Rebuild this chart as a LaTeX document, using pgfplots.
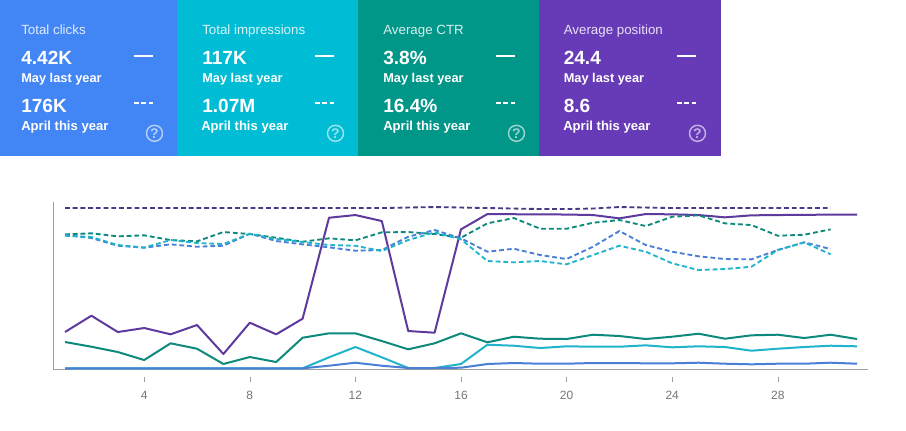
\documentclass[border=0pt]{standalone}
\usepackage{fontspec}
\setmainfont{Liberation Sans}
\usepackage{pgfplots}
\pgfplotsset{compat=1.18}
\usepackage{pgfplotstable}

\definecolor{gblue}{HTML}{4285F4}
\definecolor{gcyan}{HTML}{00BCD4}
\definecolor{gteal}{HTML}{009688}
\definecolor{gpurple}{HTML}{673AB7}
\definecolor{lineblue}{HTML}{4A7FD6}
\definecolor{linecyan}{HTML}{1FB4CC}
\definecolor{lineteal}{HTML}{0E8A7C}
\definecolor{linepurple}{HTML}{5E3A9E}
\definecolor{darkdash}{HTML}{4A3A86}
\definecolor{axisgray}{HTML}{9E9E9E}
\definecolor{ticktext}{HTML}{757575}

% heights above the baseline (no y scale is shown)
\pgfplotstableread{
day clicks impressions ctr position
1 1.2 1.2 27.5 37.5
2 1.2 1.2 22.8 53.8
3 1.2 1.2 17.5 37.5
4 1.2 1.2 9.5 41.5
5 1.2 1.2 26.2 35.2
6 1.2 1.2 20.8 44.5
7 1.2 1.2 5.5 15.5
8 1.2 1.2 12.5 46.8
9 1.2 1.2 7.5 35.2
10 1.2 1.2 31.8 50.8
11 3.8 12.2 36.2 151.8
12 6.8 22.5 36.2 154.5
13 3.8 12.2 28.5 148.5
14 1.5 1.5 20.2 38.5
15 1.5 1.5 26.2 36.8
16 1.8 5.5 36.2 140.2
17 5.5 24.8 27.2 155.5
18 6.5 23.8 32.8 155.3
19 5.8 21.5 30.8 155.2
20 5.8 23.2 30.5 155.0
21 6.5 22.8 34.8 154.5
22 6.5 22.8 33.5 151.2
23 6.2 24.2 30.5 155.5
24 6.2 22.2 32.8 155.2
25 6.8 23.2 35.8 154.5
26 5.8 22.5 30.8 152.2
27 5.2 18.8 34.2 154.2
28 5.8 20.8 34.8 154.5
29 5.8 22.5 31.5 154.7
30 6.8 23.8 34.8 154.9
31 5.8 23.2 30.5 155.0
}\thisyear

\pgfplotstableread{
day clicks impressions ctr position
1 134.5 133.8 135.2 161.5
2 131.5 132.5 136.2 161.5
3 123.8 124.5 133.2 161.5
4 121.8 122.0 134.2 161.5
5 125.2 129.5 129.5 161.5
6 122.8 126.5 128.2 161.5
7 123.8 125.5 137.5 161.5
8 135.8 135.8 135.5 161.5
9 128.5 130.5 131.8 161.5
10 125.2 127.5 127.8 161.5
11 122.2 124.5 131.2 161.5
12 118.8 123.8 129.2 161.5
13 119.5 118.5 137.2 161.5
14 132.8 129.5 137.5 162.0
15 139.5 137.2 135.5 162.5
16 131.2 130.2 131.8 162.0
17 117.8 108.5 146.2 161.5
18 120.8 107.2 151.5 161.0
19 114.5 108.5 140.8 160.5
20 110.5 105.2 140.8 160.5
21 122.8 114.5 146.8 161.0
22 138.5 123.8 149.5 162.5
23 124.5 117.8 143.5 162.0
24 117.8 106.2 152.8 161.5
25 113.2 99.5 154.2 161.5
26 110.5 100.5 146.2 161.5
27 110.2 102.8 144.5 161.5
28 119.5 119.5 133.8 161.5
29 127.2 127.2 134.8 161.5
30 120.5 115.2 140.2 161.5
}\lastyear

\newcommand{\card}[9]{%
  % left edge, width, colour, title, value A, value B, x of April label, x of dashes, x of other text
  \fill[#3] (#1,0) rectangle ++(#2,-155.5);
  \node[anchor=base west,text=white,opacity=.85,font=\fontsize{10pt}{11pt}\selectfont,inner sep=0] at (#1+#9,-34.3) {#4};
  \node[anchor=base west,text=white,font=\bfseries\fontsize{14.3pt}{16pt}\selectfont,inner sep=0] at (#1+#9,-64) {#5};
  \node[anchor=base west,text=white,font=\bfseries\fontsize{9.6pt}{11pt}\selectfont,inner sep=0] at (#1+#9,-82.7) {May last year};
  \node[anchor=base west,text=white,font=\bfseries\fontsize{14.3pt}{16pt}\selectfont,inner sep=0] at (#1+#9,-112.3) {#6};
  \node[anchor=base west,text=white,font=\bfseries\fontsize{9.8pt}{11pt}\selectfont,inner sep=0] at (#1+#7,-130.7) {April this year};
  \draw[white,line width=1.5pt] (#1+#8,-55.5) -- ++(19,0);
  \draw[white,line width=1.5pt,dash pattern=on 3.6pt off 2pt] (#1+#8,-103) -- ++(19,0);
  \draw[white,opacity=.6,line width=1.1pt] (#1+#8+20.5,-133.3) circle (8);
  \node[text=white,opacity=.6,font=\bfseries\fontsize{10.5pt}{11pt}\selectfont,inner sep=0] at (#1+#8+20.5,-133.3) {?};
}

\begin{document}
\begin{tikzpicture}[x=0.75pt,y=0.75pt]
\path[fill=white] (0,0) rectangle (906,-430);
\card{0}{177}{gblue}{Total clicks}{4.42K}{176K}{21}{134}{21}
\card{177}{181}{gcyan}{Total impressions}{117K}{1.07M}{24}{138}{25}
\card{358}{181}{gteal}{Average CTR}{3.8\%}{16.4\%}{25}{138}{25}
\card{539}{181.5}{gpurple}{Average position}{24.4}{8.6}{24}{138}{24.5}

\begin{axis}[
    at={(39.75pt,-277.125pt)},anchor=south west,
    scale only axis,
    width=611.25pt,height=125.6pt,
    xmin=0.545,xmax=31.417,
    ymin=0,ymax=167.5,
    axis lines=left,
    axis line style={axisgray,-},
    xtick={4,8,...,28},
    ytick=\empty,
    tick style={axisgray,yshift=-7.2pt},
    major tick length=3.75pt,
    tick label style={font=\fontsize{9pt}{10pt}\selectfont,text=ticktext},
    /pgf/number format/assume math mode=true,
    xticklabel shift=11pt,
    clip=false,
    line join=round,
    dashline/.style={line width=1.4pt,dash pattern=on 3.6pt off 2.2pt},
    solidline/.style={line width=1.5pt},
]
\addplot[solidline,linecyan] table[x=day,y=impressions] {\thisyear};
\addplot[solidline,lineblue] table[x=day,y=clicks] {\thisyear};
\addplot[solidline,lineteal] table[x=day,y=ctr] {\thisyear};
\addplot[solidline,linepurple] table[x=day,y=position] {\thisyear};
\addplot[dashline,lineteal] table[x=day,y=ctr] {\lastyear};
\addplot[dashline,lineblue] table[x=day,y=clicks] {\lastyear};
\addplot[dashline,linecyan] table[x=day,y=impressions] {\lastyear};
\addplot[dashline,darkdash] table[x=day,y=position] {\lastyear};
\end{axis}
\end{tikzpicture}
\end{document}
